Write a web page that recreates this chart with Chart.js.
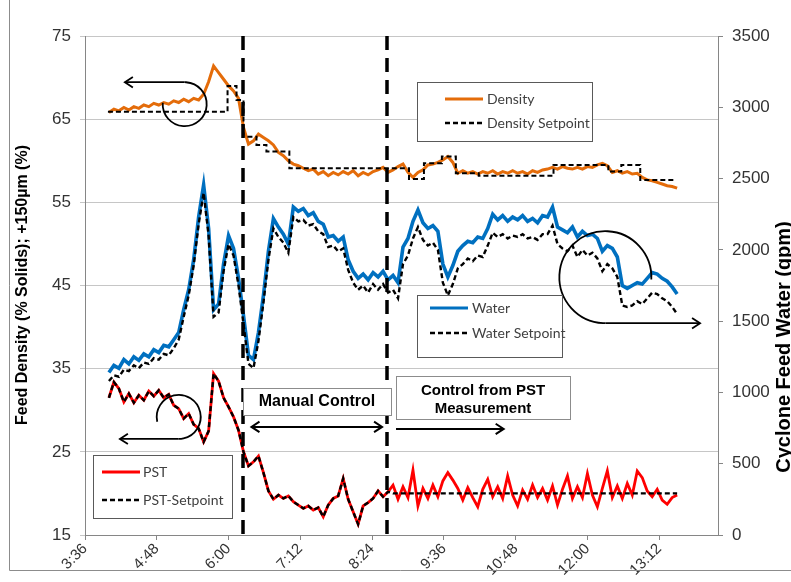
<!DOCTYPE html>
<html><head><meta charset="utf-8">
<script src="https://cdn.jsdelivr.net/npm/chart.js@4.4.0/dist/chart.umd.min.js"></script>
<style>html,body{margin:0;padding:0;background:#fff;}#wrap{width:791px;height:582px;position:relative;}</style>
</head><body><div id="wrap"><canvas id="c" width="791" height="582"></canvas></div>
<script>
// ---- data (time in minutes after midnight) ----
const times = [240,245,250,255,260,265,270,275,280,285,290,295,300,305,310,315,320,325,330,335,340,345,350,355,360,365,370,375,380,385,390,395,400,405,410,415,420,425,430,435,440,445,450,455,460,465,470,475,480,485,490,495,500,505,510,515,520,525,530,535,540,545,550,555,560,565,570,575,580,585,590,595,600,605,610,615,620,625,630,635,640,645,650,655,660,665,670,675,680,685,690,695,700,705,710,715,720,725,730,735,740,745,750,755,760,765,770,775,780,785,790,795,800,805,810];

const density = [65.8,66.2,66.0,66.4,66.1,66.5,66.3,66.7,66.5,66.9,66.7,67.0,66.8,67.2,67.0,67.4,67.1,67.5,67.3,68.0,69.5,71.4,70.6,69.8,69.0,68.4,67.5,64.0,62.0,62.4,63.2,62.8,62.4,61.9,61.0,60.6,60.0,59.6,59.4,59.1,58.8,59.0,58.4,58.7,58.2,58.6,58.3,58.7,58.4,58.8,58.2,58.6,58.3,58.7,58.9,59.2,58.6,58.9,59.3,59.6,58.6,58.0,58.6,58.9,59.5,59.6,59.8,60.1,60.5,59.8,58.5,58.8,58.5,58.7,58.4,58.7,58.5,58.8,58.4,58.7,58.5,58.8,58.5,58.7,58.4,58.8,58.6,58.9,59.0,59.2,59.0,59.3,59.1,59.0,59.2,59.0,59.3,59.2,59.5,59.7,59.4,58.6,58.8,58.5,58.7,58.4,58.5,58.0,57.7,57.6,57.4,57.2,57.0,56.9,56.7];

const densitySetpointTimes = [239,359,368,375,388,398,421,541,556,574,588,611,686,741,754,773,808];
const densitySetpoint = [65.9,69.0,67.3,62.9,61.9,61.1,59.1,57.8,59.7,60.5,58.5,58.2,59.5,58.7,59.5,57.7,57.7];

const water = [1140,1190,1170,1230,1200,1250,1225,1270,1250,1300,1280,1330,1320,1370,1420,1580,1720,1930,2230,2455,2150,1580,1620,1900,2100,2010,1800,1540,1260,1230,1420,1680,1990,2220,2160,2110,2040,2300,2270,2290,2240,2260,2200,2180,2090,2100,2060,2090,1930,1850,1800,1830,1790,1840,1810,1850,1790,1820,1770,2020,2080,2200,2280,2190,2150,2170,2130,1900,1810,1890,1990,2030,2060,2050,2090,2080,2150,2250,2210,2240,2200,2230,2210,2240,2200,2220,2190,2240,2230,2300,2160,2140,2120,2160,2090,2130,2100,2110,2080,1990,2030,2010,1950,1750,1730,1750,1770,1760,1800,1840,1830,1800,1780,1740,1690];

const waterSetpoint = [1080,1120,1110,1160,1150,1190,1170,1210,1200,1240,1230,1270,1260,1310,1370,1530,1680,1890,2180,2400,2100,1530,1560,1850,2040,1960,1750,1480,1200,1170,1360,1630,1930,2150,2090,2050,1980,2230,2200,2210,2170,2180,2130,2110,2020,2030,1990,2010,1860,1770,1720,1750,1700,1760,1720,1760,1700,1720,1660,1900,1960,2080,2160,2070,2030,2050,2000,1770,1680,1760,1870,1900,1940,1920,1960,1950,2030,2120,2090,2110,2080,2100,2090,2110,2080,2090,2070,2110,2110,2170,2040,2010,1990,2030,1950,2000,1960,1980,1940,1850,1900,1870,1810,1610,1600,1610,1640,1620,1660,1700,1690,1660,1640,1600,1550];

const pst = [31.5,33.4,32.6,31.0,32.0,30.9,31.8,31.2,32.3,31.7,32.4,31.5,31.9,30.6,30.2,29.0,29.6,28.3,27.8,26.2,27.5,34.4,33.5,31.5,30.4,29.2,27.6,25.0,23.3,23.8,24.5,22.5,20.3,19.3,19.8,19.4,19.7,19.0,18.6,18.2,18.5,18.0,18.3,17.2,18.6,19.4,19.7,21.8,19.3,17.8,16.3,18.5,18.9,19.4,20.3,19.6,20.2,21.0,19.3,20.8,19.5,22.8,18.5,20.6,19.4,21.0,19.6,21.5,22.5,21.6,20.6,19.2,20.7,19.5,18.4,20.5,21.7,19.6,20.8,19.4,22.1,19.8,18.5,20.4,19.3,21.0,19.5,20.6,19.2,20.9,18.6,20.5,22.1,19.4,20.8,19.5,22.4,19.8,18.4,20.6,22.7,19.5,20.9,19.4,21.2,19.8,22.7,21.9,20.3,19.6,20.5,19.2,18.7,19.5,19.8];

const pstSetpoint = [31.5,33.4,32.6,31.0,32.0,30.9,31.8,31.2,32.3,31.7,32.4,31.5,31.9,30.6,30.2,29.0,29.6,28.3,27.8,26.2,27.5,34.4,33.5,31.5,30.4,29.2,27.6,25.0,23.3,23.8,24.5,22.5,20.3,19.3,19.8,19.4,19.7,19.0,18.6,18.2,18.5,18.0,18.3,17.2,18.6,19.4,19.7,21.8,19.3,17.8,16.3,18.5,18.9,19.4,20.3,19.6,20.2,20.0,20.0,20.0,20.0,20.0,20.0,20.0,20.0,20.0,20.0,20.0,20.0,20.0,20.0,20.0,20.0,20.0,20.0,20.0,20.0,20.0,20.0,20.0,20.0,20.0,20.0,20.0,20.0,20.0,20.0,20.0,20.0,20.0,20.0,20.0,20.0,20.0,20.0,20.0,20.0,20.0,20.0,20.0,20.0,20.0,20.0,20.0,20.0,20.0,20.0,20.0,20.0,20.0,20.0,20.0,20.0,20.0,20.0];

const xTickLabels = ['3:36','4:48','6:00','7:12','8:24','9:36','10:48','12:00','13:12'];
const leftTickValues = [15,25,35,45,55,65,75];
const rightTickValues = [0,500,1000,1500,2000,2500,3000,3500];
const eventTimes = [374, 519];

// ---- helpers ----
const toMin = s => { const [h,m] = s.split(':').map(Number); return h*60+m; };
const fmt = v => { const h = Math.floor(v/60), m = Math.round(v%60); return h + ':' + String(m).padStart(2,'0'); };
const pts = (xs, ys) => xs.map((t,i) => ({x:t, y:ys[i]}));

function arrowHead(ctx, x, y, dir, s) {
  ctx.beginPath();
  ctx.moveTo(x - dir*s, y - s*0.65);
  ctx.lineTo(x, y);
  ctx.lineTo(x - dir*s, y + s*0.65);
  ctx.stroke();
}
function legendBox(ctx, bx, by, bw, bh, lx1, lx2, tx, rows) {
  ctx.save();
  ctx.fillStyle = '#fff'; ctx.fillRect(bx, by, bw, bh);
  ctx.strokeStyle = '#595959'; ctx.lineWidth = 1; ctx.setLineDash([]);
  ctx.strokeRect(bx+0.5, by+0.5, bw, bh);
  ctx.font = '14px Lato, "Liberation Sans", sans-serif';
  ctx.textBaseline = 'middle'; ctx.textAlign = 'left';
  rows.forEach(r => {
    ctx.strokeStyle = r.color; ctx.lineWidth = r.w; ctx.setLineDash(r.dash || []);
    ctx.beginPath(); ctx.moveTo(lx1, r.y); ctx.lineTo(lx2, r.y); ctx.stroke();
    ctx.setLineDash([]);
    ctx.fillStyle = '#404040'; ctx.fillText(r.label, tx, r.y);
  });
  ctx.restore();
}

const overlay = {
  id: 'overlay',
  afterDatasetsDraw(chart) {
    const {ctx, chartArea: ca, scales} = chart;
    const X = v => scales.x.getPixelForValue(v);
    const Y = v => scales.yL.getPixelForValue(v);
    ctx.save();
    ctx.strokeStyle = '#000'; ctx.lineWidth = 3.5; ctx.setLineDash([14, 8]);
    eventTimes.forEach(t => {
      const px = Math.round(X(t));
      ctx.beginPath(); ctx.moveTo(px, ca.top); ctx.lineTo(px, ca.bottom); ctx.stroke();
    });
    ctx.setLineDash([]);

    ctx.strokeStyle = '#000'; ctx.lineWidth = 1.8;
    let cx = X(316), cy = Y(66.8), r = 22;
    ctx.beginPath(); ctx.arc(cx, cy, r, Math.PI*1.02, -Math.PI/2, true); ctx.stroke();
    ctx.beginPath(); ctx.moveTo(cx, cy - r); ctx.lineTo(X(256), cy - r); ctx.stroke();
    arrowHead(ctx, X(256), cy - r, -1, 8);
    cx = X(310); cy = Y(29.2); r = 22;
    ctx.beginPath(); ctx.arc(cx, cy, r, Math.PI*0.93, Math.PI*2.5, false); ctx.stroke();
    ctx.beginPath(); ctx.moveTo(cx, cy + r); ctx.lineTo(X(251), cy + r); ctx.stroke();
    arrowHead(ctx, X(251), cy + r, -1, 8);
    cx = X(738); cy = Y(46.0); r = 46;
    ctx.beginPath(); ctx.arc(cx, cy, r, 0.05, Math.PI/2, true); ctx.stroke();
    ctx.beginPath(); ctx.moveTo(cx, cy + r); ctx.lineTo(X(833), cy + r); ctx.stroke();
    arrowHead(ctx, X(833), cy + r, 1, 8);

    ctx.font = 'bold 16px "Liberation Sans", Arial, sans-serif';
    ctx.textAlign = 'center'; ctx.textBaseline = 'middle';
    ctx.fillStyle = '#fff'; ctx.fillRect(243, 388, 148, 27);
    ctx.strokeStyle = '#8c8c8c'; ctx.lineWidth = 1;
    ctx.strokeRect(243.5, 388.5, 148, 27);
    ctx.fillStyle = '#000'; ctx.fillText('Manual Control', 317, 402);
    ctx.fillStyle = '#fff'; ctx.fillRect(396, 376, 174, 43);
    ctx.strokeStyle = '#8c8c8c'; ctx.strokeRect(396.5, 376.5, 174, 43);
    ctx.font = 'bold 15px "Liberation Sans", Arial, sans-serif';
    ctx.fillStyle = '#000';
    ctx.fillText('Control from PST', 483, 391);
    ctx.fillText('Measurement', 483, 409);

    ctx.strokeStyle = '#000'; ctx.lineWidth = 2;
    let ay = Y(28.0);
    ctx.beginPath(); ctx.moveTo(X(383), ay); ctx.lineTo(X(514), ay); ctx.stroke();
    arrowHead(ctx, X(383), ay, -1, 8); arrowHead(ctx, X(514), ay, 1, 8);
    ay = Y(27.75);
    ctx.beginPath(); ctx.moveTo(X(528), ay); ctx.lineTo(X(636), ay); ctx.stroke();
    arrowHead(ctx, X(636), ay, 1, 8);

    legendBox(ctx, 417, 82, 175, 59, 445, 483, 487, [
      {label:'Density', color:'#E46C0A', w:3, y:99},
      {label:'Density Setpoint', color:'#000', w:2.5, dash:[5,3], y:123}]);
    legendBox(ctx, 417, 295, 145, 62, 430, 468, 472, [
      {label:'Water', color:'#0070C0', w:3, y:308},
      {label:'Water Setpoint', color:'#000', w:2.5, dash:[5,3], y:333}]);
    legendBox(ctx, 93, 455, 139, 63, 102, 140, 143, [
      {label:'PST', color:'#FF0000', w:3, y:472},
      {label:'PST-Setpoint', color:'#000', w:2.5, dash:[5,3], y:500}]);
    ctx.restore();
  },
  afterDraw(chart) {
    const ctx = chart.ctx;
    ctx.save();
    ctx.fillStyle = '#000';
    ctx.font = 'bold 16px "Liberation Sans", Arial, sans-serif';
    ctx.textAlign = 'center'; ctx.textBaseline = 'middle';
    ctx.translate(23, 285); ctx.rotate(-Math.PI/2);
    ctx.fillText('Feed Density (% Solids); +150\u00b5m (%)', 0, 0);
    ctx.setTransform(1,0,0,1,0,0);
    ctx.font = 'bold 20px "Liberation Sans", Arial, sans-serif';
    ctx.textBaseline = 'top';
    ctx.translate(774, 347); ctx.rotate(-Math.PI/2);
    ctx.fillText('Cyclone Feed Water (gpm)', 0, 0);
    ctx.setTransform(1,0,0,1,0,0);
    ctx.strokeStyle = '#8c8c8c'; ctx.lineWidth = 1;
    ctx.beginPath(); ctx.moveTo(9.5, 0); ctx.lineTo(9.5, 570.5); ctx.lineTo(791, 570.5); ctx.stroke();
    ctx.restore();
  }
};

const tickFont = {family: '"Liberation Sans", Arial, sans-serif', size: 17};
const axisGray = '#868686';

new Chart(document.getElementById('c'), {
  type: 'line',
  data: {
    datasets: [
      {label:'Density Setpoint', data: pts(densitySetpointTimes, densitySetpoint), yAxisID:'yL', borderColor:'#000', borderWidth:2, borderDash:[5,3], stepped:true, pointRadius:0, order:0},
      {label:'Water Setpoint', data: pts(times, waterSetpoint), yAxisID:'yR', borderColor:'#000', borderWidth:2.4, borderDash:[5,3], pointRadius:0, order:0},
      {label:'PST-Setpoint', data: pts(times, pstSetpoint), yAxisID:'yL', borderColor:'#000', borderWidth:2.4, borderDash:[5,3], pointRadius:0, order:0},
      {label:'Density', data: pts(times, density), yAxisID:'yL', borderColor:'#E46C0A', borderWidth:3, pointRadius:0, order:1},
      {label:'Water', data: pts(times, water), yAxisID:'yR', borderColor:'#0070C0', borderWidth:3.6, pointRadius:0, order:1},
      {label:'PST', data: pts(times, pst), yAxisID:'yL', borderColor:'#FF0000', borderWidth:2.8, pointRadius:0, order:1}
    ]
  },
  options: {
    responsive:false, animation:false, devicePixelRatio:1,
    layout:{padding:{top:36, left:0, right:0, bottom:0}},
    plugins:{legend:{display:false}, tooltip:{enabled:false}},
    elements:{line:{tension:0}},
    scales:{
      x:{type:'linear', position:'bottom', min:216, max:851,
        afterBuildTicks: s => { s.ticks = xTickLabels.map(l => ({value: toMin(l)})); },
        afterFit: s => { s.height = 47; },
        ticks:{callback: v => fmt(v), maxRotation:45, minRotation:45, autoSkip:false, padding:0, color:'#333',
          font:{family:'"Liberation Sans", Arial, sans-serif', size:15}},
        grid:{drawOnChartArea:false, drawTicks:true, tickLength:5, color:axisGray},
        border:{color:axisGray}},
      yL:{position:'left', min:15, max:75,
        afterBuildTicks: s => { s.ticks = leftTickValues.map(v => ({value:v})); },
        afterFit: s => { s.width = 85; },
        ticks:{padding:9, color:'#333', font:tickFont, callback: v => String(v)},
        grid:{color:'#c6c6c6', tickLength:5},
        border:{color:axisGray}},
      yR:{position:'right', min:0, max:3500,
        afterBuildTicks: s => { s.ticks = rightTickValues.map(v => ({value:v})); },
        afterFit: s => { s.width = 73; },
        ticks:{padding:9, color:'#333', font:tickFont, callback: v => String(v)},
        grid:{drawOnChartArea:false, tickLength:5, color:axisGray},
        border:{color:axisGray}}
    }
  },
  plugins:[overlay]
});
</script></body></html>
